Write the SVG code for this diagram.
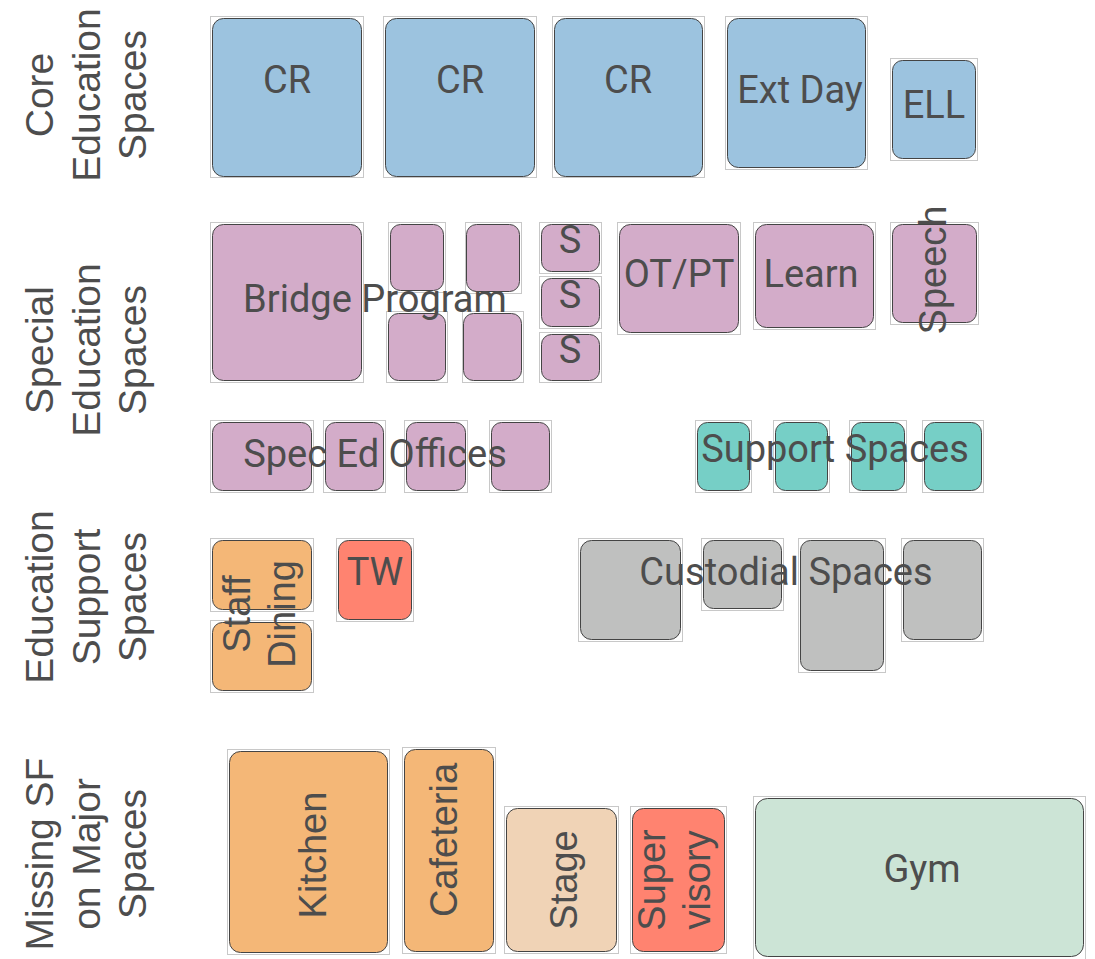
<svg xmlns="http://www.w3.org/2000/svg" width="1095" height="959" viewBox="0 0 1095 959">
<style>
.o{fill:none;stroke:#c8c8c8;stroke-width:1}
.r{stroke:#444;stroke-width:1}
.blue{fill:#9cc3df}.pink{fill:#d3acc9}.teal{fill:#76cfc6}.gray{fill:#bfc0bf}.orange{fill:#f4b777}.red{fill:#ff8370}.beige{fill:#f0d3b6}.green{fill:#cce4d6}
.t{font-family:Roboto,"Liberation Sans",sans-serif;font-size:38px;fill:#4d4d4d;text-anchor:middle}
.v{font-family:"Liberation Sans",Arial,sans-serif;font-size:38px;fill:#4d4d4d;text-anchor:middle}
.h{font-family:"Liberation Sans",Arial,sans-serif;font-size:39px;fill:#4d4d4d;text-anchor:middle}
</style>
<rect width="1095" height="959" fill="#fff"/>
<g id="section-labels">
<g id="lbl-core" transform="translate(0,95) rotate(-90)"><text class="h" x="0" y="53">Core</text><text class="h" x="0" y="100">Education</text><text class="h" x="0" y="146">Spaces</text></g>
<g id="lbl-special" transform="translate(0,350) rotate(-90)"><text class="h" x="0" y="53">Special</text><text class="h" x="0" y="100">Education</text><text class="h" x="0" y="146">Spaces</text></g>
<g id="lbl-support" transform="translate(0,597) rotate(-90)"><text class="h" x="0" y="53">Education</text><text class="h" x="0" y="100">Support</text><text class="h" x="0" y="146">Spaces</text></g>
<g id="lbl-missing" transform="translate(0,854) rotate(-90)"><text class="h" x="0" y="53">Missing SF</text><text class="h" x="0" y="100">on Major</text><text class="h" x="0" y="146">Spaces</text></g>
</g>
<g id="core">
<g id="cr1"><rect class="o" x="210.5" y="16.5" width="153" height="161"/><rect class="r blue" x="212.5" y="18.5" width="149" height="158" rx="11"/><text class="t" x="287" y="93">CR</text></g>
<g id="cr2"><rect class="o" x="383.5" y="16.5" width="153" height="161"/><rect class="r blue" x="385.5" y="18.5" width="149" height="158" rx="11"/><text class="t" x="460" y="93">CR</text></g>
<g id="cr3"><rect class="o" x="552.5" y="16.5" width="152" height="161"/><rect class="r blue" x="554.5" y="18.5" width="148" height="158" rx="11"/><text class="t" x="628" y="93">CR</text></g>
<g id="extday"><rect class="o" x="725.5" y="16.5" width="142" height="153"/><rect class="r blue" x="727.5" y="18.5" width="138" height="149" rx="11"/><text class="t" x="800" y="103">Ext Day</text></g>
<g id="ell"><rect class="o" x="890.5" y="58.5" width="87" height="102"/><rect class="r blue" x="892.5" y="60.5" width="83" height="98" rx="10"/><text class="t" x="934" y="118">ELL</text></g>
</g>
<g id="special">
<g id="bridge">
<rect class="o" x="210.5" y="222.5" width="153" height="160"/><rect class="r pink" x="212.5" y="224.5" width="149" height="156" rx="11"/>
<rect class="o" x="388.5" y="222.5" width="57" height="70"/><rect class="r pink" x="390.5" y="224.5" width="53" height="66" rx="10"/>
<rect class="o" x="465.5" y="222.5" width="56" height="71"/><rect class="r pink" x="466.5" y="224.5" width="53" height="67" rx="10"/>
<rect class="o" x="386.5" y="311.5" width="61" height="71"/><rect class="r pink" x="388.5" y="313.5" width="57" height="67" rx="10"/>
<rect class="o" x="462.5" y="311.5" width="61" height="71"/><rect class="r pink" x="463.5" y="313.5" width="58" height="67" rx="10"/>
<text class="t" x="375" y="312">Bridge Program</text>
</g>
<g id="s1"><rect class="o" x="539.5" y="222.5" width="62" height="51"/><rect class="r pink" x="541.5" y="224.5" width="58" height="47" rx="10"/><text class="t" x="570" y="253">S</text></g>
<g id="s2"><rect class="o" x="539.5" y="276.5" width="62" height="52"/><rect class="r pink" x="541.5" y="278.5" width="58" height="48" rx="10"/><text class="t" x="570" y="308">S</text></g>
<g id="s3"><rect class="o" x="539.5" y="332.5" width="62" height="50"/><rect class="r pink" x="541.5" y="334.5" width="58" height="46" rx="10"/><text class="t" x="570" y="363">S</text></g>
<g id="otpt"><rect class="o" x="617.5" y="222.5" width="123" height="112"/><rect class="r pink" x="619.5" y="224.5" width="119" height="108" rx="11"/><text class="t" x="679" y="287">OT/PT</text></g>
<g id="learn"><rect class="o" x="753.5" y="222.5" width="122" height="107"/><rect class="r pink" x="755.5" y="224.5" width="118" height="103" rx="11"/><text class="t" x="811" y="287">Learn</text></g>
<g id="speech"><rect class="o" x="890.5" y="222.5" width="88" height="102"/><rect class="r pink" x="892.5" y="224.5" width="84" height="98" rx="10"/><text class="v" transform="translate(946,270) rotate(-90)" x="0" y="0">Speech</text></g>
<g id="specedoffices">
<rect class="o" x="210.5" y="420.5" width="103" height="72"/><rect class="r pink" x="212.5" y="422.5" width="99" height="68" rx="10"/>
<rect class="o" x="323.5" y="420.5" width="62" height="72"/><rect class="r pink" x="325.5" y="422.5" width="58" height="68" rx="10"/>
<rect class="o" x="404.5" y="420.5" width="63" height="72"/><rect class="r pink" x="406.5" y="422.5" width="59" height="68" rx="10"/>
<rect class="o" x="489.5" y="420.5" width="62" height="72"/><rect class="r pink" x="491.5" y="422.5" width="58" height="68" rx="10"/>
<text class="t" x="375" y="467">Spec Ed Offices</text>
</g>
<g id="supportspaces">
<rect class="o" x="695.5" y="420.5" width="56" height="72"/><rect class="r teal" x="697.5" y="422.5" width="52" height="68" rx="10"/>
<rect class="o" x="773.5" y="420.5" width="56" height="72"/><rect class="r teal" x="775.5" y="422.5" width="52" height="68" rx="10"/>
<rect class="o" x="849.5" y="420.5" width="57" height="72"/><rect class="r teal" x="851.5" y="422.5" width="53" height="68" rx="10"/>
<rect class="o" x="922.5" y="420.5" width="61" height="72"/><rect class="r teal" x="924.5" y="422.5" width="57" height="68" rx="10"/>
<text class="t" x="835" y="462">Support Spaces</text>
</g>
</g>
<g id="edsupport">
<g id="staffdining">
<rect class="o" x="210.5" y="538.5" width="103" height="73"/><rect class="r orange" x="212.5" y="540.5" width="99" height="69" rx="10"/>
<rect class="o" x="210.5" y="620.5" width="103" height="72"/><rect class="r orange" x="212.5" y="622.5" width="99" height="68" rx="10"/>
<g transform="translate(0,614) rotate(-90)"><text class="v" x="0" y="250">Staff</text><text class="v" x="0" y="295">Dining</text></g>
</g>
<g id="tw"><rect class="o" x="336.5" y="538.5" width="77" height="83"/><rect class="r red" x="338.5" y="540.5" width="73" height="79" rx="10"/><text class="t" x="375" y="585">TW</text></g>
<g id="custodial">
<rect class="o" x="578.5" y="538.5" width="104" height="103"/><rect class="r gray" x="580.5" y="540.5" width="100" height="99" rx="11"/>
<rect class="o" x="701.5" y="538.5" width="82" height="72"/><rect class="r gray" x="703.5" y="540.5" width="78" height="68" rx="10"/>
<rect class="o" x="798.5" y="538.5" width="87" height="134"/><rect class="r gray" x="800.5" y="540.5" width="83" height="130" rx="10"/>
<rect class="o" x="901.5" y="538.5" width="82" height="103"/><rect class="r gray" x="903.5" y="540.5" width="78" height="99" rx="10"/>
<text class="t" x="786" y="585">Custodial Spaces</text>
</g>
</g>
<g id="major">
<g id="kitchen"><rect class="o" x="227.5" y="749.5" width="162" height="205"/><rect class="r orange" x="229.5" y="751.5" width="158" height="201" rx="11"/><text class="v" transform="translate(326,855) rotate(-90)" x="0" y="0">Kitchen</text></g>
<g id="cafeteria"><rect class="o" x="402.5" y="747.5" width="93" height="206"/><rect class="r orange" x="404.5" y="749.5" width="89" height="202" rx="11"/><text class="v" transform="translate(457,840) rotate(-90)" x="0" y="0">Cafeteria</text></g>
<g id="stage"><rect class="o" x="504.5" y="806.5" width="114" height="147"/><rect class="r beige" x="506.5" y="808.5" width="110" height="143" rx="11"/><text class="v" transform="translate(577,880) rotate(-90)" x="0" y="0">Stage</text></g>
<g id="supervisory"><rect class="o" x="630.5" y="806.5" width="96" height="147"/><rect class="r red" x="632.5" y="808.5" width="92" height="143" rx="11"/><g transform="translate(0,880) rotate(-90)"><text class="v" x="0" y="665">Super</text><text class="v" x="0" y="710">visory</text></g></g>
<g id="gym"><rect class="o" x="753.5" y="796.5" width="332" height="170"/><rect class="r green" x="755.5" y="798.5" width="328" height="158" rx="12"/><text class="t" x="922" y="882">Gym</text></g>
</g>
<g id="connectors"/>
</svg>
